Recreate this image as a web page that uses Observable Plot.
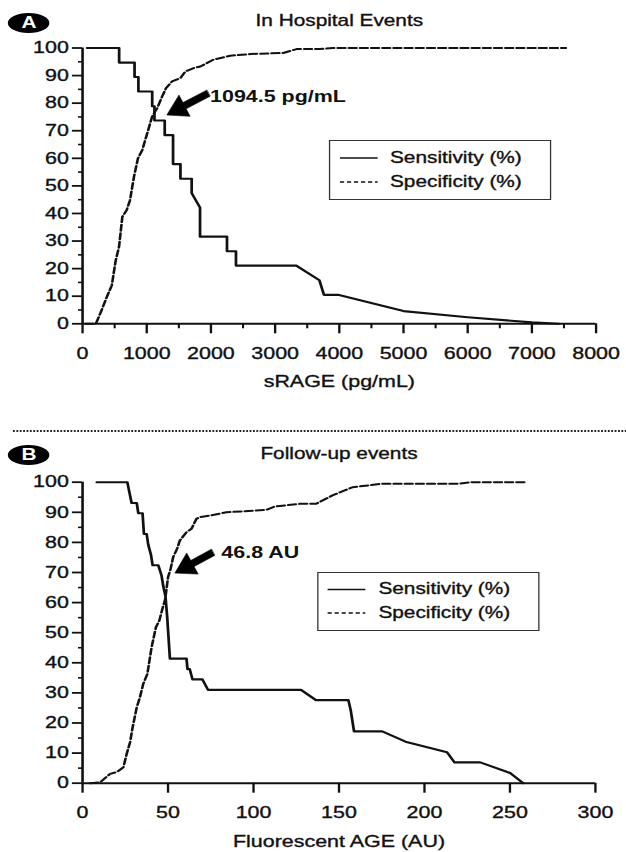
<!DOCTYPE html>
<html>
<head>
<meta charset="utf-8">
<script src="https://cdn.jsdelivr.net/npm/d3@7"></script>
<script src="https://cdn.jsdelivr.net/npm/@observablehq/plot@0.6"></script>
<style>
  html, body { margin: 0; padding: 0; background: #fff; overflow: hidden; }
  #page { position: relative; width: 481.54px; height: 852px; transform: scaleX(1.3); transform-origin: 0 0;
          font-family: "Liberation Sans", Arial, Helvetica, sans-serif; color: #111; }
  .abs { position: absolute; }
  .badge { position: absolute; background: #000; color: #fff; border-radius: 50%; font-weight: bold;
           font-size: 16px; text-align: center; }
  .legend { position: absolute; border: 1.6px solid #333; box-sizing: border-box; background: #fff; }
  .legend span { position: absolute; font-size: 16px; line-height: 20px; height: 20px; white-space: nowrap; color: #111;
                 -webkit-text-stroke: 0.35px #111; }
  .legend svg { position: absolute; overflow: visible; }
  svg text { paint-order: stroke; }
</style>
</head>
<body>
<div id="page">
  <div id="chartA" class="abs" style="left:0;top:0"></div>
  <div id="chartB" class="abs" style="left:0;top:420px"></div>
</div>
<script>
// ---------------- data ----------------
// Panel A: In Hospital Events, x = sRAGE (pg/mL)
const sensA_x = [70, 570, 570, 810, 810, 870, 870, 1085, 1085, 1120, 1120, 1280, 1280, 1410, 1410, 1525, 1525, 1700, 1700, 1830, 1830, 2250, 2250, 2390, 2390, 3330, 3690, 3760, 3980, 5000, 6000, 7000, 7420];
const sensA_y = [100, 100, 94.7, 94.7, 89.5, 89.5, 84.2, 84.2, 78.9, 78.9, 73.7, 73.7, 68.4, 68.4, 57.9, 57.9, 52.6, 52.6, 47.4, 42.1, 31.6, 31.6, 26.3, 26.3, 21.1, 21.1, 15.8, 10.5, 10.5, 4.6, 2.4, 0.5, 0];
const specA_x = [52, 207, 284, 388, 455, 517, 568, 620, 687, 739, 801, 863, 930, 1008, 1085, 1163, 1240, 1302, 1395, 1525, 1602, 1731, 1835, 2041, 2300, 2610, 3127, 3333, 3695, 3900, 7530];
const specA_y = [0, 0, 4.2, 10.3, 13.9, 23, 27.9, 38.8, 41.2, 44.8, 53.3, 60, 63, 69.1, 75.2, 78.2, 82.4, 85.5, 87.9, 89.1, 91.5, 92.7, 93.3, 95.8, 97.2, 97.8, 98.2, 99.6, 99.6, 100, 100];

// Panel B: Follow-up events, x = Fluorescent AGE (AU)
const sensB_x = [8.3, 26.2, 27.4, 28.7, 31.7, 32.6, 35.1, 35.9, 37.5, 38.4, 40, 41, 44.3, 46.2, 47.2, 48.5, 49.5, 51.1, 60.8, 61.4, 62.7, 64.3, 70.1, 73.4, 127.8, 136.5, 155.5, 156.9, 158.8, 175.3, 188.9, 213.2, 217.6, 232.6, 250.1, 257.8];
const sensB_y = [100, 100, 96.6, 93.1, 93.1, 89.7, 89.7, 82.8, 82.8, 79.3, 75.9, 72.4, 72.4, 69.0, 65.5, 62.1, 55.2, 41.4, 41.4, 37.9, 37.9, 34.5, 34.5, 31.0, 31.0, 27.6, 27.6, 24.1, 17.2, 17.2, 13.8, 10.3, 6.9, 6.9, 3.4, 0];
const specB_x = [4.5, 10.3, 16.1, 20, 23.9, 25.8, 27.8, 29.3, 31.7, 33.6, 35.5, 37.9, 40.4, 42.9, 44.9, 46.5, 48.3, 50, 51.5, 53, 55.3, 56.9, 60.8, 63.7, 66.6, 68.5, 74.4, 84.1, 107.4, 112.2, 126.8, 136.5, 146.2, 157.8, 175.3, 220, 227.7, 258.8];
const specB_y = [0, 0.3, 3.1, 3.7, 5.3, 9.7, 13.6, 18.6, 25.2, 28.6, 33, 36.3, 45.2, 51.8, 54, 57.5, 61, 68.4, 71.2, 75.1, 77.9, 80.6, 83.4, 84.5, 87.8, 88.4, 88.9, 90, 90.8, 91.9, 92.8, 92.8, 95.6, 98.3, 99.5, 99.5, 100, 100];

// ticks
const yTicks = [0, 10, 20, 30, 40, 50, 60, 70, 80, 90, 100];
const yMinor = [5, 15, 25, 35, 45, 55, 65, 75, 85, 95];
const xTicksA = [0, 1000, 2000, 3000, 4000, 5000, 6000, 7000, 8000];
const xMinorA = [500, 1500, 2500, 3500, 4500, 5500, 6500, 7500];
const xTicksB = [0, 50, 100, 150, 200, 250, 300];

// titles / labels
const titleA = "In Hospital Events";
const titleB = "Follow-up events";
const xLabelA = "sRAGE (pg/mL)";
const xLabelB = "Fluorescent AGE (AU)";
const seriesNames = ["Sensitivity (%)", "Specificity (%)"];

// annotations: [x, y] in data units
const annotA_text = "1094.5 pg/mL";
const annotA_at = [1986, 82.5];
const arrowA_tip = [1313, 75.7];
const arrowA_tail = [1960, 83.6];
const annotB_text = "46.8 AU";
const annotB_at = [81.2, 76.7];
const arrowB_tip = [54, 69.8];
const arrowB_tail = [76.3, 76.7];

// ---------------- layout ----------------
const SX = 1.3;
const W = 626 / SX;
const mL = 63;
const cfgA = {H: 400, mT: 47.5, mB: 76.7, mR: 23.5, xDomain: [0, 8000]};
const cfgB = {H: 432, mT: 61.7, mB: 69.3, mR: 24, xDomain: [0, 300]};
const FONT = "'Liberation Sans', Arial, Helvetica, sans-serif";
const INK = "#111";
const plain = d => String(d);

function zip(xs, ys) { return xs.map((x, i) => ({x, y: ys[i]})); }

function arrowShape(tip, tail, cfg, headLen, headHalf, shaftHalf) {
  const xs = d3.scaleLinear(cfg.xDomain, [mL, W - cfg.mR]);
  const ys = d3.scaleLinear([0, 100], [cfg.H - cfg.mB, cfg.mT]);
  const P = [xs(tip[0]) * SX, ys(tip[1])], Q = [xs(tail[0]) * SX, ys(tail[1])];
  const dx = P[0] - Q[0], dy = P[1] - Q[1], L = Math.hypot(dx, dy);
  const ux = dx / L, uy = dy / L, nx = -uy, ny = ux;
  const B = [P[0] - ux * headLen, P[1] - uy * headLen];
  const pts = [
    [Q[0] + nx * shaftHalf, Q[1] + ny * shaftHalf],
    [B[0] + nx * shaftHalf, B[1] + ny * shaftHalf],
    [B[0] + nx * headHalf, B[1] + ny * headHalf],
    P,
    [B[0] - nx * headHalf, B[1] - ny * headHalf],
    [B[0] - nx * shaftHalf, B[1] - ny * shaftHalf],
    [Q[0] - nx * shaftHalf, Q[1] - ny * shaftHalf]
  ];
  return pts.map(([X, Y]) => ({x: xs.invert(X / SX), y: ys.invert(Y)}));
}

const textInk = {fill: INK, stroke: INK, strokeWidth: 0.35};

function panel(cfg, o) {
  return Plot.plot({
    width: W, height: cfg.H,
    marginLeft: mL, marginRight: cfg.mR, marginTop: cfg.mT, marginBottom: cfg.mB,
    style: {fontFamily: FONT, fontSize: "16px", color: INK, background: "transparent", overflow: "visible"},
    x: {domain: cfg.xDomain},
    y: {domain: [0, 100]},
    marks: [
      Plot.axisY(yMinor, {tickSize: 3, tickFormat: () => "", label: null, strokeWidth: 1.6, stroke: INK}),
      Plot.axisY(yTicks, {tickSize: 7.7, tickPadding: 2.8, tickFormat: plain, label: null, strokeWidth: 1.8, stroke: INK, fontSize: 16.5, fill: INK}),
      ...(o.xMinor ? [Plot.axisX(o.xMinor, {tickSize: 5, tickFormat: () => "", label: null, strokeWidth: 1.6, stroke: INK})] : []),
      Plot.axisX(o.xTicks, {tickSize: 10, tickPadding: 13.5, tickFormat: plain, label: null, strokeWidth: 1.8, stroke: INK, fontSize: 16.5, fill: INK}),
      Plot.ruleX([0], {y1: 0, y2: 100, stroke: INK, strokeWidth: 2}),
      Plot.ruleY([0], {x1: cfg.xDomain[0], x2: cfg.xDomain[1], stroke: INK, strokeWidth: 2}),
      Plot.line(o.spec, {x: "x", y: "y", stroke: INK, strokeWidth: 2, strokeDasharray: "6,2.6"}),
      Plot.line(o.sens, {x: "x", y: "y", stroke: INK, strokeWidth: 2.1}),
      Plot.line(o.arrow, {x: "x", y: "y", curve: "linear-closed", fill: "#000", stroke: "#000", strokeWidth: 0.5}),
      Plot.text([o.annot], {x: d => d.at[0], y: d => d.at[1], text: d => d.text, textAnchor: "start", lineAnchor: "middle",
                            fontWeight: "bold", fontSize: 16.5, fill: INK}),
      Plot.text([o.title], {text: d => d, frameAnchor: "top", dy: o.titleDy, lineAnchor: "middle", fontSize: 16, ...textInk}),
      Plot.text([o.xLabel], {text: d => d, frameAnchor: "bottom", dy: o.labelDy, lineAnchor: "middle", fontSize: 16.5, ...textInk})
    ]
  });
}

document.getElementById("chartA").appendChild(panel(cfgA, {
  sens: zip(sensA_x, sensA_y), spec: zip(specA_x, specA_y),
  xTicks: xTicksA, xMinor: xMinorA,
  arrow: arrowShape(arrowA_tip, arrowA_tail, cfgA, 20, 12, 3.5),
  annot: {text: annotA_text, at: annotA_at},
  title: titleA, titleDy: -27.5, xLabel: xLabelA, labelDy: 57.7
}));
document.getElementById("chartB").appendChild(panel(cfgB, {
  sens: zip(sensB_x, sensB_y), spec: zip(specB_x, specB_y),
  xTicks: xTicksB, xMinor: null,
  arrow: arrowShape(arrowB_tip, arrowB_tail, cfgB, 20, 12, 3.5),
  annot: {text: annotB_text, at: annotB_at},
  title: titleB, titleDy: -28.7, xLabel: xLabelB, labelDy: 59
}));

// thicken tick labels slightly (the reference glyphs are heavier)
document.querySelectorAll("#page svg [aria-label^='y-axis tick label'], #page svg [aria-label^='x-axis tick label']")
  .forEach(g => { g.setAttribute("stroke", INK); g.setAttribute("stroke-width", "0.35"); });

// ---------------- decorations (badges, separator, legends) ----------------
const page = document.getElementById("page");
function badge(letter, top) {
  const b = document.createElement("div");
  b.className = "badge";
  Object.assign(b.style, {left: (8 / SX) + "px", top: top + "px", width: (42 / SX) + "px", height: "20.5px", lineHeight: "20.5px"});
  b.textContent = letter;
  page.appendChild(b);
}
badge("A", 12.8);
badge("B", 444.8);

// dotted separator
const sep = d3.create("svg").attr("width", W).attr("height", 4)
  .style("position", "absolute").style("left", "0px").style("top", "429px");
sep.append("line").attr("x1", 10).attr("x2", W).attr("y1", 2).attr("y2", 2)
  .attr("stroke", "#222").attr("stroke-width", 2).attr("stroke-dasharray", "1.4,1.2");
page.appendChild(sep.node());

function legend(left, top, width, height, row1, row2, lineX0, lineX1, textX) {
  const box = document.createElement("div");
  box.className = "legend";
  Object.assign(box.style, {left: left + "px", top: top + "px", width: width + "px", height: height + "px"});
  const rows = [row1, row2];
  seriesNames.forEach((name, i) => {
    const s = d3.create("svg").attr("width", 1).attr("height", 1)
      .style("left", "0px").style("top", "0px");
    s.append("line").attr("x1", lineX0).attr("x2", lineX1).attr("y1", rows[i]).attr("y2", rows[i])
      .attr("stroke", INK).attr("stroke-width", i === 0 ? 1.6 : 1.4)
      .attr("stroke-dasharray", i === 0 ? null : "3.2,2.2");
    box.appendChild(s.node());
    const t = document.createElement("span");
    Object.assign(t.style, {left: textX + "px", top: (rows[i] - 10) + "px"});
    t.textContent = name;
    box.appendChild(t);
  });
  page.appendChild(box);
}
legend(252.5, 140, 171.8, 60, 17, 41, 7.5, 36.5, 46.5);
legend(244.1, 571.7, 171.3, 59, 16.5, 40, 7, 36, 46);
</script>
</body>
</html>
